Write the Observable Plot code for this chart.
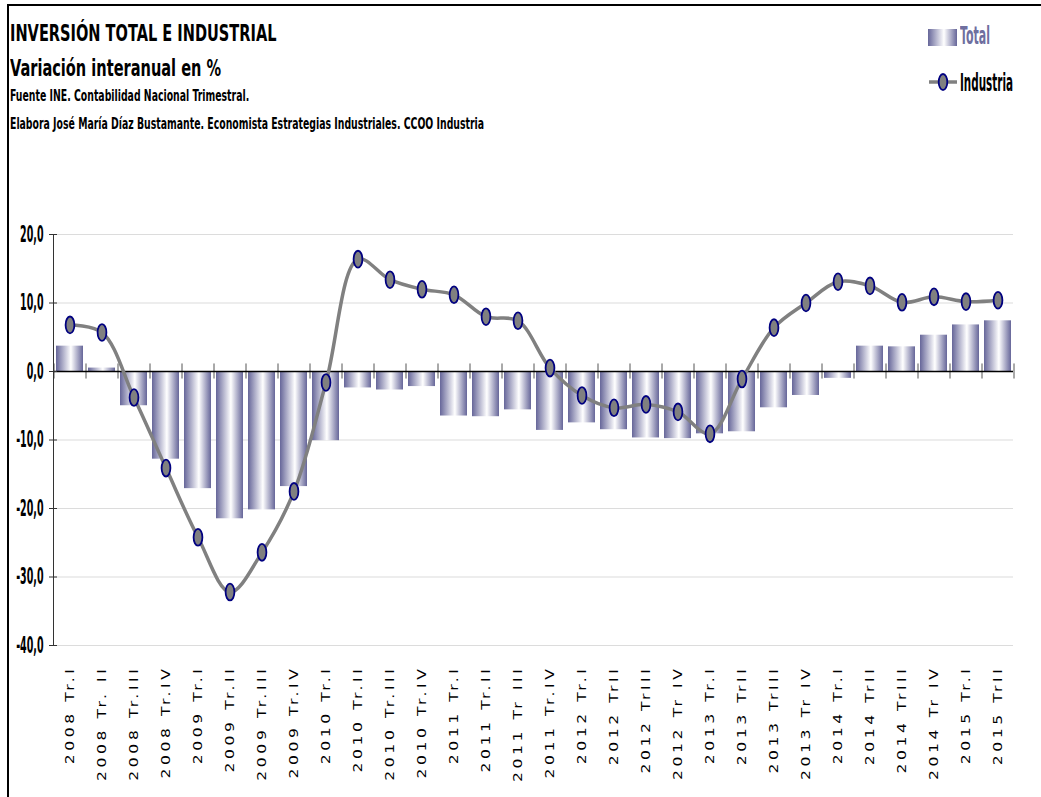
<!DOCTYPE html>
<html>
<head>
<meta charset="utf-8">
<script src="https://cdn.jsdelivr.net/npm/d3@7"></script>
<script src="https://cdn.jsdelivr.net/npm/@observablehq/plot@0.6"></script>
<style>
  html, body { margin: 0; padding: 0; background: #fff; }
  #wrap { position: relative; width: 1041px; height: 797px; overflow: hidden; }
  #frame { position: absolute; left: 7px; top: 4px; width: 1040px; height: 800px; border-top: 2px solid #000; border-left: 2px solid #000; box-sizing: border-box; }
  .narrow { font-family: "Liberation Sans Narrow", "Arial Narrow", "DejaVu Sans Condensed", sans-serif; font-weight: bold; }
  .t { position: absolute; left: 10px; white-space: nowrap; color: #000; transform-origin: 0 100%; line-height: 1; }
  .big { font-size: 20.5px; transform: scale(0.79, 1.15); }
  .small { font-size: 12.5px; transform: scale(0.83, 1.2); }
  #chart { position: absolute; left: 0; top: 0; }
  .leg { position: absolute; white-space: nowrap; line-height: 1; font-size: 17px; transform-origin: 0 100%; }
</style>
</head>
<body>
<div id="wrap">
  <div id="chart"></div>
  <div id="frame"></div>
  <div class="t narrow big" style="top:25px">INVERSIÓN TOTAL E INDUSTRIAL</div>
  <div class="t narrow big" style="top:60px">Variación interanual en %</div>
  <div class="t narrow small" style="top:91px">Fuente INE. Contabilidad Nacional Trimestral.</div>
  <div class="t narrow small" style="top:119px">Elabora José María Díaz Bustamante. Economista Estrategias Industriales. CCOO Industria</div>
  <svg style="position:absolute;left:928px;top:29px" width="30" height="17">
    <defs>
      <linearGradient id="legGrad" x1="0" x2="1" y1="0" y2="0">
        <stop offset="0" stop-color="#666699"/>
        <stop offset="0.55" stop-color="#ffffff"/>
        <stop offset="1" stop-color="#666699"/>
      </linearGradient>
    </defs>
    <rect x="0" y="0" width="29" height="17" fill="url(#legGrad)"/>
  </svg>
  <div class="leg narrow" style="left:960px;top:31px;color:#6f6f9f;transform:scale(0.72,1.5)">Total</div>
  <svg style="position:absolute;left:926px;top:72px" width="34" height="20">
    <line x1="3" x2="31" y1="10" y2="10" stroke="#808080" stroke-width="3.5"/>
    <ellipse cx="17" cy="10" rx="4.3" ry="8" fill="#808080" stroke="#000080" stroke-width="1.8"/>
  </svg>
  <div class="leg narrow" style="left:960px;top:78px;color:#000;transform:scale(0.68,1.5)">Industria</div>
</div>
<script>
const categories = ["2008 Tr.I","2008 Tr. II","2008 Tr.III","2008 Tr.IV","2009 Tr.I","2009 Tr.II","2009 Tr.III","2009 Tr.IV","2010 Tr.I","2010 Tr.II","2010 Tr.III","2010 Tr.IV","2011 Tr.I","2011 Tr.II","2011 Tr III","2011 Tr.IV","2012 Tr.I","2012 TrII","2012 TrIII","2012 Tr IV","2013 Tr.I","2013 TrII","2013 TrIII","2013 Tr IV","2014 Tr.I","2014 TrII","2014 TrIII","2014 Tr IV","2015 Tr.I","2015 TrII"];
const total = [3.7, 0.5, -5.0, -12.8, -17.1, -21.5, -20.2, -16.8, -10.1, -2.4, -2.7, -2.2, -6.5, -6.6, -5.6, -8.6, -7.5, -8.5, -9.7, -9.8, -9.1, -8.8, -5.3, -3.5, -1.0, 3.7, 3.6, 5.3, 6.8, 7.4];
const industria = [6.8, 5.7, -3.8, -14.1, -24.2, -32.2, -26.4, -17.5, -1.6, 16.4, 13.4, 12.0, 11.2, 8.0, 7.4, 0.5, -3.5, -5.3, -4.8, -5.9, -9.1, -1.1, 6.4, 10.0, 13.1, 12.5, 10.1, 10.9, 10.2, 10.4];
const yTicks = [20, 10, 0, -10, -20, -30, -40];
const gridTicks = [20, 10, -10, -20, -30, -40];

const data = categories.map((c, i) => ({cat: c, total: total[i], industria: industria[i]}));

const W = 1041, H = 797, ML = 53, MR = 28, MT = 234, MB = 152;
const bw = (W - ML - MR) / categories.length;

const k = 0.5523;
const ellipse = {
  draw(ctx) {
    const rx = 4.4, ry = 8.4;
    ctx.moveTo(rx, 0);
    ctx.bezierCurveTo(rx, ry * k, rx * k, ry, 0, ry);
    ctx.bezierCurveTo(-rx * k, ry, -rx, ry * k, -rx, 0);
    ctx.bezierCurveTo(-rx, -ry * k, -rx * k, -ry, 0, -ry);
    ctx.bezierCurveTo(rx * k, -ry, rx, -ry * k, rx, 0);
    ctx.closePath();
  }
};

const fmt = d => d.toFixed(1).replace(".", ",");
const narrow = '"Liberation Sans Narrow", "Arial Narrow", "DejaVu Sans Condensed", sans-serif';

const chart = Plot.plot({
  width: W,
  height: H,
  marginLeft: ML,
  marginRight: MR,
  marginTop: MT,
  marginBottom: MB,
  style: {background: "transparent", overflow: "visible"},
  x: {domain: categories, paddingInner: 0.16, paddingOuter: 0.08, label: null},
  y: {domain: [-40, 20], label: null},
  marks: [
    Plot.gridY(gridTicks, {stroke: "#dcdcdc", strokeOpacity: 1, strokeWidth: 1.2}),
    Plot.barY(data, {x: "cat", y: "total", fill: "url(#barGrad)"}),
    Plot.ruleX(categories, {x: d => d, y1: -1.1, y2: 1.1, dx: -bw / 2, stroke: "#555", strokeWidth: 1}),
    Plot.ruleX(categories.slice(-1), {x: d => d, y1: -1.1, y2: 1.1, dx: bw / 2, stroke: "#555", strokeWidth: 1}),
    Plot.ruleY([0], {stroke: "#000", strokeWidth: 1.6}),
    Plot.frame({anchor: "left", stroke: "#333", strokeWidth: 1}),
    Plot.axisY({ticks: yTicks, tickSize: 8, dx: 4, tickFormat: () => "", stroke: "#333", label: null}),
    Plot.axisY({ticks: yTicks, tickSize: 0, tickPadding: 10, tickFormat: fmt, fontSize: 17, fontWeight: "bold", fontFamily: narrow, fill: "#000", label: null}),
    Plot.axisX({tickRotate: -90, tickSize: 0, tickPadding: 20, fontSize: 13, fontFamily: "DejaVu Sans, Verdana, sans-serif", fill: "#000", label: null}),
    Plot.line(data, {x: "cat", y: "industria", curve: "catmull-rom", stroke: "#808080", strokeWidth: 3.5}),
    Plot.dot(data, {x: "cat", y: "industria", symbol: ellipse, r: 5, fill: "#808080", stroke: "#000080", strokeWidth: 1.8})
  ]
});

const ns = "http://www.w3.org/2000/svg";
const defs = document.createElementNS(ns, "defs");
defs.innerHTML = '<linearGradient id="barGrad" x1="0" x2="1" y1="0" y2="0"><stop offset="0" stop-color="#666699"/><stop offset="0.55" stop-color="#ffffff"/><stop offset="1" stop-color="#666699"/></linearGradient>';
chart.insertBefore(defs, chart.firstChild);
// stretch x labels along their (vertical) direction, like the source image
chart.querySelectorAll('[aria-label="x-axis tick label"] text').forEach(t => {
  t.setAttribute("letter-spacing", "3px");
  const tr = t.getAttribute("transform") || "";
  t.setAttribute("transform", tr + " scale(1.2,1)");
});
// condensed, tall y labels
chart.querySelectorAll('[aria-label="y-axis tick label"] text').forEach(t => {
  if (!t.textContent.trim()) return;
  const tr = t.getAttribute("transform") || "";
  t.setAttribute("transform", tr + " scale(0.62,1.32)");
});
document.getElementById("chart").appendChild(chart);
</script>
</body>
</html>
